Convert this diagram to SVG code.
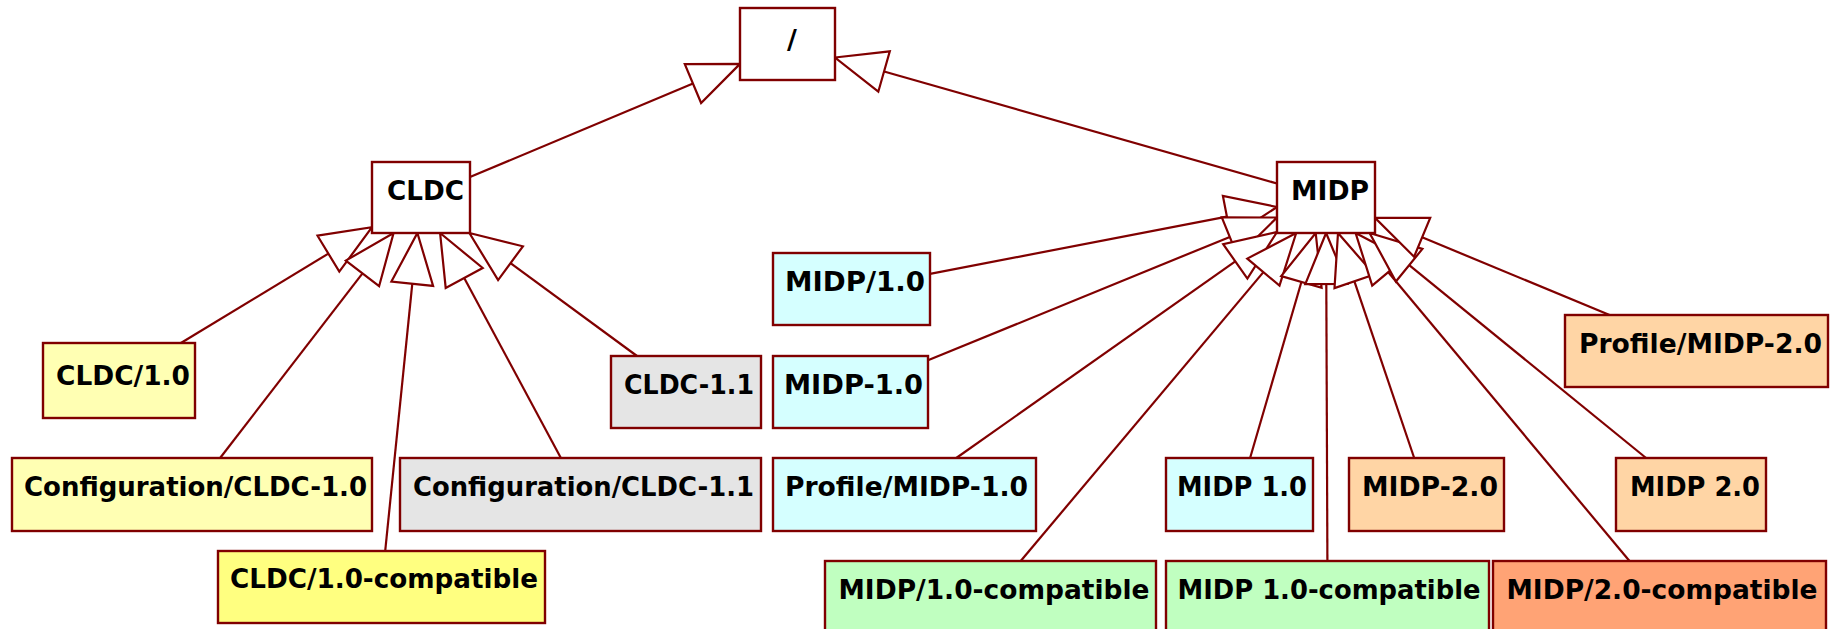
<svg xmlns="http://www.w3.org/2000/svg" width="1832" height="629" viewBox="0 0 1832 629">
  <style>
    .box { stroke: #800000; stroke-width: 2.4; }
    .plain { fill: #ffffff; }
    .yel { fill: #ffffb3; }
    .yel2 { fill: #ffff80; }
    .gray { fill: #e5e5e5; }
    .cyan { fill: #d5ffff; }
    .green { fill: #c0ffc0; }
    .peach { fill: #ffd5a5; }
    .salmon { fill: #ffa375; }
    .lbl { font-family: "DejaVu Sans", "Liberation Sans", sans-serif; font-weight: bold; font-size: 27px; fill: #000000; }
    .edge line { stroke: #800000; stroke-width: 2.2; fill: none; }
    .edge polygon { stroke: #800000; stroke-width: 2.2; fill: #ffffff; stroke-linejoin: miter; }
  </style>

  <rect width="1832" height="629" fill="#ffffff"/>

  <!-- generalization connectors: child to parent, hollow triangle at parent -->
  <g id="connectors" class="edge">
    <!-- CLDC -> / -->
    <line x1="470" y1="177" x2="693" y2="83.6"/>
    <polygon points="740,63.9 701.1,103 684.8,64.2"/>
    <!-- MIDP -> / -->
    <line x1="1277" y1="183.5" x2="884.1" y2="71.5"/>
    <polygon points="835,57.5 889.8,51.3 878.3,91.7"/>

    <!-- CLDC children -->
    <line x1="180.9" y1="343" x2="328.4" y2="253.6"/>
    <polygon points="372,227.2 339.3,271.6 317.5,235.7"/>
    <line x1="220.1" y1="458" x2="362.5" y2="273.4"/>
    <polygon points="393.6,233 379.1,286.2 345.8,260.6"/>
    <line x1="385.2" y1="551" x2="412.3" y2="283.7"/>
    <polygon points="417.4,233 433.1,285.9 391.4,281.6"/>
    <line x1="560.9" y1="458" x2="464.2" y2="277.9"/>
    <polygon points="440.1,233 482.7,268 445.7,287.9"/>
    <line x1="637" y1="356" x2="510.5" y2="263.2"/>
    <polygon points="469.4,233 522.9,246.3 498.1,280.1"/>

    <!-- MIDP children -->
    <line x1="930" y1="273.9" x2="1226.9" y2="216.6"/>
    <polygon points="1277,207 1230.9,237.2 1222.9,196"/>
    <line x1="928" y1="360.3" x2="1229.8" y2="236.9"/>
    <polygon points="1277,217.5 1237.7,256.3 1221.8,217.4"/>
    <line x1="956.3" y1="458" x2="1235.3" y2="261.4"/>
    <polygon points="1277,232 1247.4,278.6 1223.2,244.2"/>
    <line x1="1020.7" y1="561" x2="1263.4" y2="272.1"/>
    <polygon points="1296.2,233 1279.5,285.6 1247.3,258.6"/>
    <line x1="1250.1" y1="458" x2="1301.4" y2="282"/>
    <polygon points="1315.7,233 1321.6,287.8 1281.2,276.1"/>
    <line x1="1327.4" y1="561" x2="1326.3" y2="284"/>
    <polygon points="1326.1,233 1347.3,283.9 1305.3,284.1"/>
    <line x1="1414.2" y1="458" x2="1354.4" y2="281.3"/>
    <polygon points="1338,233 1374.2,274.6 1334.5,288.1"/>
    <line x1="1629.5" y1="561" x2="1388.3" y2="272.2"/>
    <polygon points="1355.6,233 1404.4,258.7 1372.2,285.6"/>
    <line x1="1646.1" y1="458" x2="1409.2" y2="265.2"/>
    <polygon points="1369.6,233 1422.4,248.9 1395.9,281.5"/>
    <line x1="1609.6" y1="315" x2="1422.1" y2="237.3"/>
    <polygon points="1375,217.8 1430.2,217.9 1414.1,256.7"/>
  </g>

  <!-- root -->
  <g id="node-root">
    <rect class="box plain" x="740" y="8" width="95" height="72"/>
    <text class="lbl" x="792" y="49" text-anchor="middle">/</text>
  </g>

  <!-- CLDC branch -->
  <g id="node-cldc">
    <rect class="box plain" x="372" y="162" width="98" height="71"/>
    <text class="lbl" x="387" y="200" textLength="77" lengthAdjust="spacingAndGlyphs">CLDC</text>
  </g>
  <g id="node-cldc-1-0-slash">
    <rect class="box yel" x="43" y="343" width="152" height="75"/>
    <text class="lbl" x="56" y="385" textLength="134" lengthAdjust="spacingAndGlyphs">CLDC/1.0</text>
  </g>
  <g id="node-config-cldc-1-0">
    <rect class="box yel" x="12" y="458" width="360" height="73"/>
    <text class="lbl" x="24" y="496" textLength="343" lengthAdjust="spacingAndGlyphs">Configuration/CLDC-1.0</text>
  </g>
  <g id="node-cldc-1-0-compatible">
    <rect class="box yel2" x="218" y="551" width="327" height="72"/>
    <text class="lbl" x="230" y="588" textLength="308" lengthAdjust="spacingAndGlyphs">CLDC/1.0-compatible</text>
  </g>
  <g id="node-config-cldc-1-1">
    <rect class="box gray" x="400" y="458" width="361" height="73"/>
    <text class="lbl" x="413" y="496" textLength="341" lengthAdjust="spacingAndGlyphs">Configuration/CLDC-1.1</text>
  </g>
  <g id="node-cldc-1-1">
    <rect class="box gray" x="611" y="356" width="150" height="72"/>
    <text class="lbl" x="624" y="394" textLength="130" lengthAdjust="spacingAndGlyphs">CLDC-1.1</text>
  </g>

  <!-- MIDP branch -->
  <g id="node-midp">
    <rect class="box plain" x="1277" y="162" width="98" height="71"/>
    <text class="lbl" x="1291" y="200" textLength="78" lengthAdjust="spacingAndGlyphs">MIDP</text>
  </g>
  <g id="node-midp-1-0-slash">
    <rect class="box cyan" x="773" y="253" width="157" height="72"/>
    <text class="lbl" x="785" y="291" textLength="140" lengthAdjust="spacingAndGlyphs">MIDP/1.0</text>
  </g>
  <g id="node-midp-1-0-dash">
    <rect class="box cyan" x="773" y="356" width="155" height="72"/>
    <text class="lbl" x="784" y="394" textLength="139" lengthAdjust="spacingAndGlyphs">MIDP-1.0</text>
  </g>
  <g id="node-profile-midp-1-0">
    <rect class="box cyan" x="773" y="458" width="263" height="73"/>
    <text class="lbl" x="785" y="496" textLength="243" lengthAdjust="spacingAndGlyphs">Profile/MIDP-1.0</text>
  </g>
  <g id="node-midp-1-0-space">
    <rect class="box cyan" x="1166" y="458" width="147" height="73"/>
    <text class="lbl" x="1177" y="496" textLength="130" lengthAdjust="spacingAndGlyphs">MIDP 1.0</text>
  </g>
  <g id="node-midp-2-0-dash">
    <rect class="box peach" x="1349" y="458" width="155" height="73"/>
    <text class="lbl" x="1362" y="496" textLength="136" lengthAdjust="spacingAndGlyphs">MIDP-2.0</text>
  </g>
  <g id="node-midp-2-0-space">
    <rect class="box peach" x="1616" y="458" width="150" height="73"/>
    <text class="lbl" x="1630" y="496" textLength="130" lengthAdjust="spacingAndGlyphs">MIDP 2.0</text>
  </g>
  <g id="node-profile-midp-2-0">
    <rect class="box peach" x="1565" y="315" width="263" height="72"/>
    <text class="lbl" x="1579" y="353" textLength="243" lengthAdjust="spacingAndGlyphs">Profile/MIDP-2.0</text>
  </g>
  <g id="node-midp-1-0-slash-compatible">
    <rect class="box green" x="825" y="561" width="331" height="72"/>
    <text class="lbl" x="838.5" y="599" textLength="311" lengthAdjust="spacingAndGlyphs">MIDP/1.0-compatible</text>
  </g>
  <g id="node-midp-1-0-space-compatible">
    <rect class="box green" x="1166" y="561" width="323" height="72"/>
    <text class="lbl" x="1177.5" y="599" textLength="303" lengthAdjust="spacingAndGlyphs">MIDP 1.0-compatible</text>
  </g>
  <g id="node-midp-2-0-slash-compatible">
    <rect class="box salmon" x="1493" y="561" width="333" height="72"/>
    <text class="lbl" x="1506.5" y="599" textLength="311" lengthAdjust="spacingAndGlyphs">MIDP/2.0-compatible</text>
  </g>
</svg>
